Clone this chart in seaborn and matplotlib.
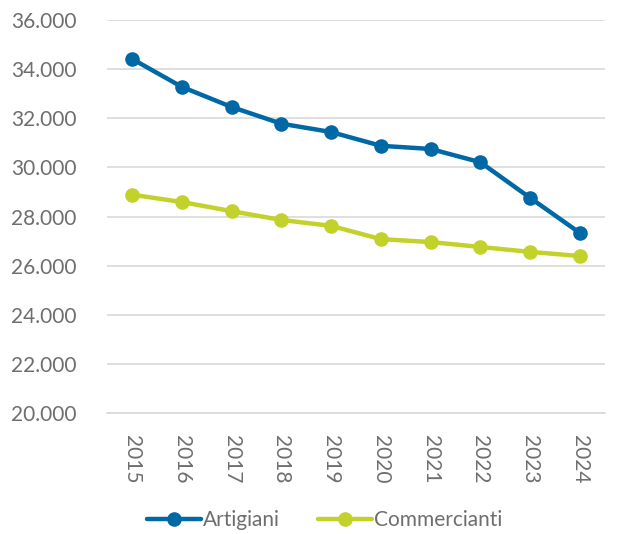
import pandas as pd
import numpy as np
import matplotlib
matplotlib.use('Agg')
import matplotlib.pyplot as plt
import seaborn as sns
from matplotlib.ticker import FuncFormatter, FixedLocator

# dati
anni = ['2015', '2016', '2017', '2018', '2019', '2020', '2021', '2022', '2023', '2024']
artigiani = [34420, 33280, 32460, 31780, 31440, 30880, 30750, 30210, 28760, 27330]
commercianti = [28890, 28590, 28220, 27860, 27620, 27080, 26960, 26760, 26560, 26390]

blu = '#0068a5'
verde = '#c3d12b'
grigio = '#6e6e6e'

df = pd.DataFrame({
    'anno': anni * 2,
    'valore': artigiani + commercianti,
    'serie': ['Artigiani'] * len(anni) + ['Commercianti'] * len(anni),
})
df['x'] = np.tile(np.arange(len(anni)), 2)

sns.set_style('white')
plt.rcParams['font.family'] = ['Lato', 'DejaVu Sans']

fig = plt.figure(figsize=(6.19, 5.34), dpi=100)
ax = fig.add_axes([0.173, 0.2266, 0.804, 0.7359])

sns.lineplot(data=df, x='x', y='valore', hue='serie', palette=[blu, verde],
             marker='o', markersize=10.5, markeredgewidth=0, linewidth=3.2,
             ax=ax, legend=True)

ax.set_xlim(-0.5, len(anni) - 0.5)
ax.set_ylim(20000, 36000)
ax.set_yticks(np.arange(20000, 36001, 2000))
ax.yaxis.set_major_formatter(FuncFormatter(lambda v, p: f'{int(v):,}'.replace(',', '.')))
ax.grid(axis='y', color='#d9d9d9', linewidth=1.2)
ax.set_axisbelow(True)

ax.set_xticks(np.arange(len(anni)))
ax.set_xticklabels(anni, rotation=270)
ax.xaxis.set_minor_locator(FixedLocator(np.arange(-0.5, len(anni), 1)))
ax.tick_params(axis='x', which='major', length=0, pad=16, labelsize=15, labelcolor=grigio)
ax.tick_params(axis='x', which='minor', length=5, width=1, color='#d9d9d9', direction='out')
ax.tick_params(axis='y', length=0, pad=22, labelsize=15, labelcolor=grigio)
ax.set_xlabel('')
ax.set_ylabel('')

for s in ['top', 'right', 'left']:
    ax.spines[s].set_visible(False)
ax.spines['bottom'].set_color('#d9d9d9')
ax.spines['bottom'].set_linewidth(1.2)

handles, labels = ax.get_legend_handles_labels()
ax.legend(handles, labels, loc='center', bbox_to_anchor=(0.437, -0.273),
          ncol=2, frameon=False, fontsize=15, labelcolor=grigio,
          handlelength=2.6, handletextpad=0.1, columnspacing=1.8)

fig.savefig('out.png', dpi=100)
